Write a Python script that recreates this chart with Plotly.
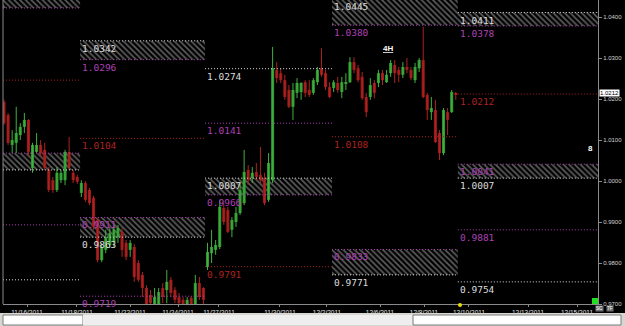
import plotly.graph_objects as go

# ---------------- data (4H candles, price) ----------------
opens = [1.0193,1.0161,1.0088,1.0093,1.0112,1.0132,1.0149,1.0032,1.0071,1.0088,
         1.0076,1.0027,1.0002,0.9978,1.0002,1.0002,1.0071,1.0020,1.0010,0.9971,
         0.9995,0.9978,0.9959,0.9905,0.9807,0.9832,0.9844,0.9851,0.9863,0.9876,
         0.9849,0.9832,0.9839,0.9800,0.9771,0.9739,0.9722,0.9700,0.9700,0.9739,
         0.9734,0.9759,0.9734,0.9717,0.9710,0.9700,0.9715,0.9700,0.9751,0.9739,
         0.9790,0.9824,0.9832,0.9839,0.9934,0.9929,0.9881,0.9900,0.9922,0.9946,
         1.0027,1.0007,1.0022,1.0015,1.0007,0.9954,1.0002,1.0271,1.0263,1.0246,
         1.0222,1.0181,1.0215,1.0217,1.0241,1.0222,1.0215,1.0241,1.0275,1.0263,
         1.0229,1.0227,1.0239,1.0217,1.0239,1.0241,1.0290,1.0275,1.0254,1.0205,
         1.0205,1.0239,1.0239,1.0263,1.0241,1.0263,1.0283,1.0271,1.0259,1.0278,
         1.0271,1.0246,1.0275,1.0295,1.0210,1.0168,1.0173,1.0117,1.0068,1.0168,
         1.0168,1.0215]
highs = [1.0198,1.0166,1.0124,1.0181,1.0141,1.0166,1.0151,1.0093,1.0117,1.0100,
         1.0093,1.0034,1.0010,1.0034,1.0027,1.0076,1.0107,1.0027,1.0015,1.0002,
         1.0000,0.9983,0.9964,0.9910,0.9849,0.9881,0.9885,0.9893,0.9893,0.9885,
         0.9856,0.9856,0.9846,0.9807,0.9778,0.9746,0.9734,0.9739,0.9739,0.9751,
         0.9783,0.9766,0.9741,0.9727,0.9717,0.9717,0.9719,0.9771,0.9766,0.9741,
         0.9849,0.9881,0.9856,0.9954,0.9946,0.9937,0.9912,0.9937,0.9995,1.0076,
         1.0039,1.0034,1.0044,1.0083,1.0020,1.0068,1.0327,1.0290,1.0275,1.0259,
         1.0234,1.0239,1.0251,1.0241,1.0246,1.0246,1.0251,1.0278,1.0324,1.0271,
         1.0241,1.0246,1.0254,1.0254,1.0263,1.0302,1.0302,1.0283,1.0266,1.0215,
         1.0251,1.0246,1.0271,1.0271,1.0271,1.0295,1.0295,1.0278,1.0290,1.0300,
         1.0278,1.0288,1.0300,1.0376,1.0215,1.0205,1.0198,1.0124,1.0178,1.0178,
         1.0222,1.0217]
lows = [1.0137,1.0088,1.0068,1.0068,1.0100,1.0117,1.0059,1.0020,1.0068,1.0059,
        1.0027,0.9973,0.9971,0.9973,0.9995,0.9990,1.0027,0.9995,0.9993,0.9961,
        0.9949,0.9941,0.9881,0.9802,0.9802,0.9824,0.9837,0.9839,0.9849,0.9815,
        0.9807,0.9815,0.9754,0.9754,0.9717,0.9693,0.9698,0.9698,0.9698,0.9702,
        0.9702,0.9717,0.9702,0.9695,0.9692,0.9690,0.9693,0.9695,0.9710,0.9697,
        0.9783,0.9800,0.9820,0.9834,0.9893,0.9873,0.9863,0.9888,0.9917,0.9941,
        0.9990,0.9995,1.0002,0.9995,0.9941,0.9949,0.9995,1.0239,1.0239,1.0198,
        1.0178,1.0149,1.0202,1.0198,1.0205,1.0205,1.0210,1.0234,1.0254,1.0222,
        1.0202,1.0217,1.0215,1.0202,1.0222,1.0239,1.0263,1.0241,1.0198,1.0156,
        1.0198,1.0202,1.0229,1.0234,1.0239,1.0254,1.0239,1.0241,1.0251,1.0263,
        1.0246,1.0239,1.0266,1.0202,1.0149,1.0149,1.0093,1.0051,1.0063,1.0112,
        1.0166,1.0198]
closes = [1.0141,1.0093,1.0100,1.0117,1.0132,1.0149,1.0071,1.0088,1.0088,1.0068,
          1.0032,0.9978,0.9978,1.0020,1.0020,1.0071,1.0034,1.0002,0.9998,0.9995,
          0.9954,0.9946,0.9888,0.9807,0.9839,0.9863,0.9873,0.9881,0.9885,0.9832,
          0.9815,0.9849,0.9766,0.9759,0.9739,0.9698,0.9702,0.9717,0.9729,0.9717,
          0.9754,0.9727,0.9710,0.9702,0.9700,0.9710,0.9700,0.9751,0.9717,0.9710,
          0.9827,0.9839,0.9844,0.9937,0.9900,0.9876,0.9905,0.9922,0.9978,1.0022,
          1.0002,1.0020,1.0010,1.0002,0.9946,1.0044,1.0275,1.0251,1.0246,1.0205,
          1.0181,1.0222,1.0239,1.0239,1.0215,1.0210,1.0246,1.0271,1.0259,1.0229,
          1.0205,1.0241,1.0222,1.0241,1.0241,1.0290,1.0271,1.0246,1.0202,1.0168,
          1.0234,1.0215,1.0263,1.0246,1.0259,1.0288,1.0263,1.0259,1.0278,1.0271,
          1.0251,1.0278,1.0295,1.0205,1.0173,1.0178,1.0095,1.0068,1.0173,1.0149,
          1.0217,1.0212]

date_ticks = [5.65, 17.93, 30.96, 42.75, 52.82, 67.81, 79.36, 92.39, 103.2, 114.25, 128.75, 140.79]
date_labels = ["11/16/2011", "11/18/2011", "11/22/2011", "11/24/2011", "11/27/2011", "11/30/2011",
               "12/2/2011", "12/6/2011", "12/8/2011", "12/10/2011", "12/13/2011", "12/15/2011"]

price_ticks = [0.97, 0.98, 0.99, 1.00, 1.01, 1.02, 1.03, 1.04]
y_range = [0.9700, 1.04415]

# weekly level segments (bar index boundaries)
seg_edges = [-0.25, 18.7, 49.4, 80.6, 111.5, 145.95]
# zones: segment, top, bottom, top colour, bottom colour
zone_seg = [0, 0, 1, 1, 2, 3, 3, 4, 4]
zone_top = [1.0470, 1.0068, 1.0342, 0.9911, 1.0007, 1.0445, 0.9833, 1.0411, 1.0041]
zone_bot = [1.0422, 1.0027, 1.0296, 0.9863, 0.9966, 1.0380, 0.9771, 1.0378, 1.0007]
zone_topc = ["w", "m", "w", "m", "w", "w", "m", "w", "m"]
zone_botc = ["m", "w", "m", "w", "m", "m", "w", "m", "w"]
# single lines: segment, price, colour
line_seg = [0, 0, 0, 1, 1, 2, 2, 2, 3, 4, 4, 4]
line_price = [1.0246, 0.9893, 0.9759, 1.0104, 0.9719, 1.0274, 1.0141, 0.9791, 1.0108, 1.0212, 0.9881, 0.9754]
line_col = ["r", "m", "w", "r", "m", "w", "m", "r", "r", "r", "m", "w"]

current_price = 1.0212

# ---------------- styling ----------------
COL = {"w": "#dcdcdc", "m": "#ac40b4", "r": "#ac2222"}
UP_BODY, UP_WICK = "#309a30", "#40b040"
DN_BODY, DN_WICK = "#9c1a1a", "#ac2424"
W, H = 625, 326
ML, MR, MT, MB = 3, 27, 0, 22
PW, PH = W - ML - MR, H - MT - MB
PX_PER_UNIT = PH / (y_range[1] - y_range[0])


def px_x(px):
    return (px - ML) / PW


def px_y(py):
    return 1 - (py - MT) / PH


fig = go.Figure()

# hatched zones
zx, zw, zb, zh = [], [], [], []
for s, t, b in zip(zone_seg, zone_top, zone_bot):
    x0, x1 = seg_edges[s], seg_edges[s + 1]
    zx.append((x0 + x1) / 2)
    zw.append(x1 - x0)
    zb.append(b)
    zh.append(t - b)
fig.add_trace(go.Bar(x=zx, y=zh, base=zb, width=zw,
                     marker=dict(color="black", line=dict(width=0),
                                 pattern=dict(shape="\\", fgcolor="#bdbdbd", bgcolor="black",
                                              size=4, solidity=0.4)),
                     hoverinfo="skip", showlegend=False))

# candle bodies
idx = list(range(len(opens)))
bb, bh, bc = [], [], []
for o, c in zip(opens, closes):
    bb.append(min(o, c))
    bh.append(max(abs(c - o), 0.00008))
    bc.append(UP_BODY if c >= o else DN_BODY)
fig.add_trace(go.Bar(x=idx, y=bh, base=bb, width=0.75,
                     marker=dict(color=bc, line=dict(width=0)),
                     hoverinfo="skip", showlegend=False))

# wicks
for up, col in ((True, UP_WICK), (False, DN_WICK)):
    wx, wy = [], []
    for i, (o, h, l, c) in enumerate(zip(opens, highs, lows, closes)):
        if (c >= o) == up:
            wx += [i, i, None]
            wy += [l, h, None]
    fig.add_trace(go.Scatter(x=wx, y=wy, mode="lines", line=dict(color=col, width=1),
                             hoverinfo="skip", showlegend=False))

shapes = []
annotations = []


def level(s, price, ck, label=True):
    shapes.append(dict(type="line", xref="x", yref="y", x0=seg_edges[s], x1=seg_edges[s + 1],
                       y0=price, y1=price, layer="above",
                       line=dict(color=COL[ck], width=1, dash="1px,2px")))
    if label and s > 0:
        ann = dict(x=seg_edges[s], xref="x", text=f"{price:.4f}",
                   showarrow=False, xanchor="left", yanchor="top",
                   font=dict(family="DejaVu Sans Mono", size=9.5, color=COL[ck]))
        if price > y_range[1]:
            ann.update(yref="paper", y=1, yshift=(price - y_range[1]) * PX_PER_UNIT)
        else:
            ann.update(yref="y", y=price)
        annotations.append(ann)


for s, t, b, tc, bcol in zip(zone_seg, zone_top, zone_bot, zone_topc, zone_botc):
    level(s, t, tc)
    level(s, b, bcol)
for s, p, ck in zip(line_seg, line_price, line_col):
    level(s, p, ck)

# left border
shapes.append(dict(type="line", xref="paper", yref="paper", x0=0, x1=0, y0=0, y1=1,
                   line=dict(color="#8a8a8a", width=1)))
# bottom status strip
shapes.append(dict(type="rect", xref="paper", yref="paper", x0=px_x(0), x1=px_x(625),
                   y0=px_y(326), y1=px_y(313), fillcolor="#d8d6d0", line=dict(width=0), layer="above"))
shapes.append(dict(type="rect", xref="paper", yref="paper", x0=px_x(3), x1=px_x(83),
                   y0=px_y(325), y1=px_y(315), fillcolor="white", line=dict(color="#7a7a7a", width=1), layer="above"))
shapes.append(dict(type="rect", xref="paper", yref="paper", x0=px_x(83), x1=px_x(413),
                   y0=px_y(325), y1=px_y(315), fillcolor="#eeeeee", line=dict(width=0), layer="above"))
shapes.append(dict(type="rect", xref="paper", yref="paper", x0=px_x(413), x1=px_x(621),
                   y0=px_y(325), y1=px_y(315), fillcolor="white", line=dict(color="#7a7a7a", width=1), layer="above"))
# green status square and yellow marker
shapes.append(dict(type="rect", xref="paper", yref="paper", x0=px_x(592), x1=px_x(598),
                   y0=px_y(304), y1=px_y(298), fillcolor="#22dd22", line=dict(width=0), layer="above"))
shapes.append(dict(type="circle", xref="paper", yref="paper", x0=px_x(458), x1=px_x(462),
                   y0=px_y(307), y1=px_y(303), fillcolor="#e8e000", line=dict(width=0), layer="above"))

# current price box
annotations.append(dict(x=1, y=current_price, xref="paper", yref="y", text=f"{current_price:.4f}",
                        showarrow=False, xanchor="left", yanchor="middle", xshift=1, yshift=1,
                        bgcolor="white", borderpad=0,
                        font=dict(family="Liberation Sans", size=6, color="black")))
# 4H label
annotations.append(dict(x=px_x(388), y=px_y(42), xref="paper", yref="paper", text="<b><u>4H</u></b>",
                        showarrow=False, font=dict(family="Liberation Sans", size=8, color="#ffffff")))
# small markers
annotations.append(dict(x=px_x(595), y=px_y(148), xref="paper", yref="paper", text="<b>8</b>",
                        showarrow=False, font=dict(family="Liberation Sans", size=8, color="white")))
annotations.append(dict(x=px_x(604), y=px_y(311.5), xref="paper", yref="paper", text="SC",
                        showarrow=False, bgcolor="#707070", borderpad=0,
                        font=dict(family="Liberation Sans", size=4.5, color="white")))
annotations.append(dict(x=px_x(614), y=px_y(311.5), xref="paper", yref="paper", text="TF",
                        showarrow=False, bgcolor="#707070", borderpad=0,
                        font=dict(family="Liberation Sans", size=4.5, color="white")))

fig.update_layout(
    width=W, height=H, margin=dict(l=ML, r=MR, t=MT, b=MB, pad=0),
    paper_bgcolor="black", plot_bgcolor="black",
    barmode="overlay", showlegend=False,
    shapes=shapes, annotations=annotations,
    xaxis=dict(range=[seg_edges[0], seg_edges[-1]], showgrid=False, zeroline=False,
               tickvals=date_ticks, ticktext=date_labels, ticks="outside", ticklen=2,
               tickcolor="#8a8a8a", showline=True, linecolor="#8a8a8a", linewidth=1,
               tickfont=dict(family="Liberation Sans", size=6.5, color="#e0e0e0"), fixedrange=True),
    yaxis=dict(range=y_range, side="right", showgrid=False, zeroline=False,
               tickvals=price_ticks, ticktext=[f"{p:.4f}" for p in price_ticks],
               ticks="outside", ticklen=3, tickcolor="#8a8a8a", showline=True,
               linecolor="#8a8a8a", linewidth=1,
               tickfont=dict(family="Liberation Sans", size=6, color="#d0d0d0"), fixedrange=True),
)

fig.write_html("out.html")
